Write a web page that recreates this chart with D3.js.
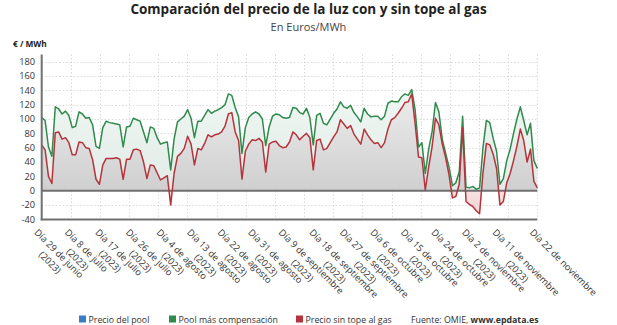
<!DOCTYPE html>
<html><head><meta charset="utf-8">
<script src="https://cdn.jsdelivr.net/npm/d3@7"></script>
<style>body{margin:0;background:#fff}svg{display:block;font-family:"Open Sans",sans-serif}</style>
</head><body><svg id="c" width="617" height="325"></svg>
<script>
const startDate = "2023-06-29";
const poolComp = [102,98,61,48,117,114,107,111,105,88,90,110,107,101,102,92,62,59,88,97,95,94,93,92,61,89,90,101,99,97,82,67,89,87,74,65,67,68,29,72,96,100,104,113,101,74,97,97,105,113,108,111,113,116,120,135,133,116,103,52,88,102,107,110,107,100,63,89,104,107,106,102,101,102,116,115,109,107,115,102,64,105,108,94,92,100,108,114,124,117,115,119,109,103,96,115,107,103,104,104,99,104,122,125,124,124,131,135,133,141,113,61,67,24,58,82,123,110,72,52,33,7,11,26,104,5,4,6,2,4,60,98,95,73,55,9,17,42,58,80,100,117,98,78,94,42,31];
const sinTope = [64,57,20,10,81,82,72,74,67,50,50,68,67,60,59,43,16,9,36,45,45,45,46,44,16,44,44,57,58,56,40,17,36,35,25,15,18,21,-20,24,48,52,59,76,65,36,59,57,66,78,75,78,79,82,90,107,109,82,70,16,55,65,71,70,73,68,26,65,68,69,63,60,61,68,82,78,71,76,80,74,29,70,72,57,59,67,75,82,99,93,87,91,79,72,65,86,78,71,66,67,60,67,86,99,102,108,115,123,124,135,94,47,46,1,33,61,101,92,65,46,22,-10,-8,9,88,-15,-19,-22,-28,-32,25,66,64,51,31,-20,-15,11,24,42,62,86,70,40,58,13,4];
const tickDates = ["2023-06-29","2023-07-08","2023-07-17","2023-07-26","2023-08-04","2023-08-13","2023-08-22","2023-08-31","2023-09-09","2023-09-18","2023-09-27","2023-10-06","2023-10-15","2023-10-24","2023-11-02","2023-11-11","2023-11-22"];
const tickLine1 = ["Día 29 de junio","Día 8 de julio","Día 17 de julio","Día 26 de julio","Día 4 de agosto","Día 13 de agosto","Día 22 de agosto","Día 31 de agosto","Día 9 de septiembre","Día 18 de septiembre","Día 27 de septiembre","Día 6 de octubre","Día 15 de octubre","Día 24 de octubre","Día 2 de noviembre","Día 11 de noviembre","Día 22 de noviembre"];
const tickLine2 = ["(2023)","(2023)","(2023)","(2023)","(2023)","(2023)","(2023)","(2023)","(2023)","(2023)","(2023)","(2023)","(2023)","(2023)","(2023)","(2023)",""];
const yTicks = [-40,-20,0,20,40,60,80,100,120,140,160,180];
const legendNames = ["Precio del pool","Pool más compensación","Precio sin tope al gas"];
const legendColors = ["#3b7dc4","#2f8a4c","#b5343b"];

const parse = d3.utcParse("%Y-%m-%d");
const t0 = parse(startDate);
const dates = poolComp.map((_, i) => d3.utcDay.offset(t0, i));
const svg = d3.select("#c");
const x = d3.scaleUtc().domain([t0, parse("2023-11-22")]).range([41.7, 537.3]);
const y = d3.scaleLinear().domain([-40, 190]).range([219.4, 54.5]);
const X0 = x.range()[0], X1 = x.range()[1];

// title
svg.append("text").attr("x", 308.5).attr("y", 14).attr("text-anchor", "middle")
  .attr("font-size", 13.5).attr("font-weight", 700).attr("fill", "#222")
  .text("Comparación del precio de la luz con y sin tope al gas");
svg.append("text").attr("x", 308.5).attr("y", 31).attr("text-anchor", "middle")
  .attr("font-size", 11).attr("fill", "#444").text("En Euros/MWh");
svg.append("text").attr("x", 13).attr("y", 47).attr("font-size", 8.3).attr("font-weight", 700)
  .attr("fill", "#222").text("€ / MWh");

// gradients
const defs = svg.append("defs");
const gg = defs.append("linearGradient").attr("id", "gG").attr("gradientUnits", "userSpaceOnUse")
  .attr("x1", 0).attr("x2", 0).attr("y1", y(140)).attr("y2", y(0));
gg.append("stop").attr("offset", 0).attr("stop-color", "#eff7f3");
gg.append("stop").attr("offset", 1).attr("stop-color", "#e2ebe7");
const off = (y(0) - y(140)) / (y(-40) - y(140));
const rg = defs.append("linearGradient").attr("id", "gR").attr("gradientUnits", "userSpaceOnUse")
  .attr("x1", 0).attr("x2", 0).attr("y1", y(140)).attr("y2", y(-40));
rg.append("stop").attr("offset", 0).attr("stop-color", "#ededed");
rg.append("stop").attr("offset", off).attr("stop-color", "#cfcfcf");
rg.append("stop").attr("offset", off + 0.001).attr("stop-color", "#f6e1e1");
rg.append("stop").attr("offset", 1).attr("stop-color", "#efd2d2");

// grid
const grid = svg.append("g").attr("stroke", "#d9d9d9").attr("stroke-width", 1).attr("stroke-dasharray", "1.5,2");
grid.selectAll("line.h").data(yTicks.filter(v => v !== 0)).join("line")
  .attr("x1", X0).attr("x2", X1).attr("y1", d => Math.round(y(d)) + 0.5).attr("y2", d => Math.round(y(d)) + 0.5);
const gx = d3.scaleLinear().domain([0, 17]).range([X0, X1]);
grid.selectAll("line.v").data(d3.range(1, 18)).join("line")
  .attr("x1", d => Math.round(gx(d)) + 0.5).attr("x2", d => Math.round(gx(d)) + 0.5)
  .attr("y1", y(190)).attr("y2", y(-40));

// areas
const areaG = d3.area().x((d, i) => x(dates[i])).y0(y(0)).y1(d => y(d));
svg.append("path").datum(poolComp).attr("d", areaG).attr("fill", "url(#gG)");
svg.append("path").datum(sinTope).attr("d", areaG).attr("fill", "url(#gR)");

// zero line
svg.append("line").attr("x1", X0).attr("x2", X1).attr("y1", y(0)).attr("y2", y(0))
  .attr("stroke", "#707070").attr("stroke-width", 2);

// lines
const line = d3.line().x((d, i) => x(dates[i])).y(d => y(d));
svg.append("path").datum(poolComp).attr("d", line).attr("fill", "none")
  .attr("stroke", legendColors[1]).attr("stroke-width", 1.5).attr("stroke-linejoin", "round");
svg.append("path").datum(sinTope).attr("d", line).attr("fill", "none")
  .attr("stroke", legendColors[2]).attr("stroke-width", 1.5).attr("stroke-linejoin", "round");

// axes
svg.append("line").attr("x1", X0).attr("x2", X0).attr("y1", y(190)).attr("y2", y(-40) + 1)
  .attr("stroke", "#707070").attr("stroke-width", 2);
svg.append("line").attr("x1", X0 - 1).attr("x2", X1).attr("y1", y(-40)).attr("y2", y(-40))
  .attr("stroke", "#707070").attr("stroke-width", 2);
svg.append("g").selectAll("text").data(yTicks).join("text")
  .attr("x", 35).attr("y", d => y(d) + 3.3).attr("text-anchor", "end")
  .attr("font-size", 9.2).attr("fill", "#333").text(d => d);

// x labels
const xl = svg.append("g").selectAll("g").data(tickDates).join("g")
  .attr("transform", d => `translate(${x(parse(d)) - 8},${233}) rotate(45)`);
xl.each(function(d, i) {
  const g = d3.select(this);
  const t1 = g.append("text").attr("font-size", 9.3).attr("fill", "#333").text(tickLine1[i]);
  const w = t1.node().getComputedTextLength();
  t1.attr("x", w / 2).attr("text-anchor", "middle");
  if (tickLine2[i]) g.append("text").attr("font-size", 9.3).attr("fill", "#333")
    .attr("x", w / 2).attr("y", 12.5).attr("text-anchor", "middle").text(tickLine2[i]);
});

// legend
const lx = [79, 169, 296];
legendNames.forEach((n, i) => {
  svg.append("rect").attr("x", lx[i]).attr("y", 315.5).attr("width", 7).attr("height", 7).attr("fill", legendColors[i]);
  svg.append("text").attr("x", lx[i] + 9.5).attr("y", 322.5).attr("font-size", 8.8).attr("fill", "#333").text(n);
});
const src = svg.append("text").attr("x", 411).attr("y", 322.5).attr("font-size", 8.8).attr("fill", "#333");
src.append("tspan").text("Fuente: OMIE, ");
src.append("tspan").attr("font-weight", 700).text("www.epdata.es");
</script></body></html>
